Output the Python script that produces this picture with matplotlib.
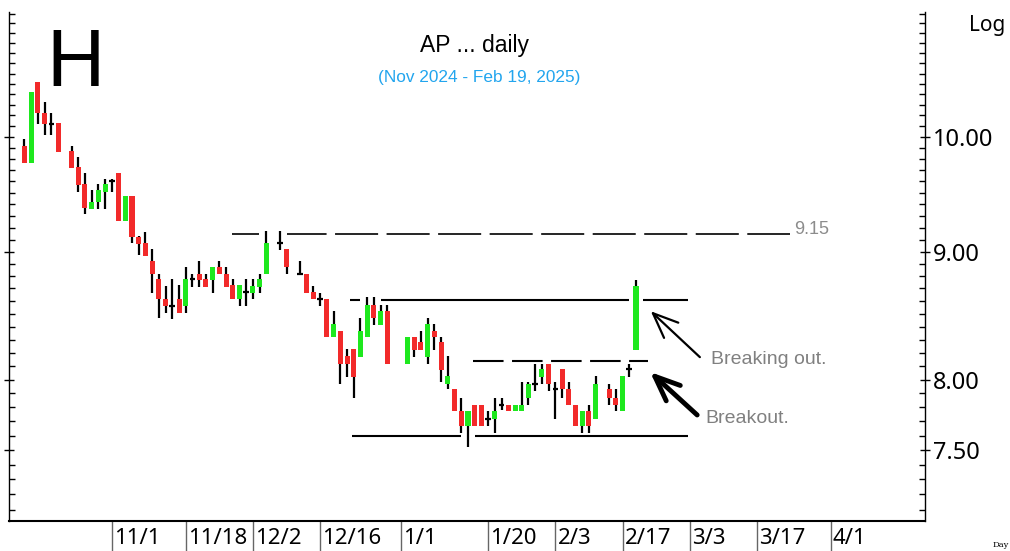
import numpy as np
import matplotlib
matplotlib.use("Agg")
import matplotlib.pyplot as plt
import matplotlib.transforms as mtransforms
from matplotlib.ticker import FixedLocator, FuncFormatter, NullFormatter

plt.rcParams['lines.scale_dashes'] = False

# weekday index 0 = first candle
start = '2024-10-15'

# candles: weekday index, open, high, low, close
day = [0, 1, 2, 3, 4, 5, 7, 8, 9, 10, 11, 12, 13, 14, 15, 16, 17, 18, 19, 20,
       21, 22, 23, 24, 25, 26, 27, 28, 29, 30, 31, 32, 33, 34, 35, 36, 38, 39, 41, 42,
       43, 44, 45, 46, 47, 48, 49, 50, 51, 52, 53, 54, 57, 58, 59, 60, 61, 62, 63, 64,
       65, 66, 67, 68, 69, 70, 71, 72, 73, 74, 75, 76, 77, 78, 79, 80, 81, 82, 83, 84,
       85, 87, 88, 89, 90, 91]
opn = [9.92, 9.76, 10.52, 10.22, 10.12, 10.13, 9.87, 9.73, 9.58, 9.36, 9.42, 9.51, 9.60, 9.67, 9.26, 9.47, 9.12, 9.07, 8.92, 8.78,
       8.62, 8.56, 8.62, 8.56, 8.78, 8.82, 8.78, 8.77, 8.87, 8.82, 8.73, 8.62, 8.67, 8.66, 8.71, 8.82, 9.07, 9.02, 8.82, 8.82,
       8.67, 8.62, 8.62, 8.32, 8.37, 8.18, 8.23, 8.17, 8.32, 8.57, 8.41, 8.52, 8.12, 8.32, 8.28, 8.17, 8.37, 8.28, 7.97, 7.93,
       7.77, 7.67, 7.82, 7.82, 7.72, 7.72, 7.82, 7.82, 7.77, 7.77, 7.87, 7.97, 8.02, 8.12, 7.93, 8.08, 7.93, 7.82, 7.67, 7.77,
       7.72, 7.93, 7.87, 7.77, 8.08, 8.22]
high = [9.98, 10.42, 10.52, 10.33, 10.22, 10.13, 9.92, 9.82, 9.67, 9.52, 9.58, 9.62, 9.62, 9.67, 9.47, 9.47, 9.13, 9.16, 9.02, 8.82,
        8.72, 8.78, 8.73, 8.87, 8.82, 8.92, 8.82, 8.87, 8.92, 8.87, 8.78, 8.73, 8.78, 8.78, 8.82, 9.17, 9.17, 9.02, 8.92, 8.82,
        8.72, 8.66, 8.62, 8.52, 8.37, 8.23, 8.23, 8.47, 8.63, 8.63, 8.57, 8.57, 8.32, 8.32, 8.37, 8.47, 8.42, 8.32, 8.18, 7.93,
        7.87, 7.77, 7.82, 7.82, 7.77, 7.87, 7.87, 7.82, 7.82, 7.98, 7.98, 8.12, 8.12, 8.12, 7.98, 8.08, 7.98, 7.82, 7.77, 7.82,
        8.03, 7.97, 7.93, 8.03, 8.12, 8.77]
low = [9.76, 9.76, 10.12, 10.02, 10.02, 9.86, 9.72, 9.51, 9.32, 9.36, 9.36, 9.36, 9.51, 9.26, 9.26, 9.07, 8.97, 8.96, 8.66, 8.47,
       8.51, 8.46, 8.51, 8.51, 8.71, 8.71, 8.71, 8.66, 8.82, 8.71, 8.62, 8.56, 8.56, 8.62, 8.66, 8.82, 9.01, 8.82, 8.82, 8.66,
       8.62, 8.56, 8.32, 8.32, 7.97, 8.02, 7.87, 8.17, 8.32, 8.41, 8.41, 8.12, 8.12, 8.17, 8.22, 8.12, 8.22, 7.98, 7.93, 7.77,
       7.62, 7.52, 7.67, 7.67, 7.67, 7.62, 7.78, 7.77, 7.77, 7.77, 7.82, 7.92, 7.97, 7.92, 7.72, 7.87, 7.82, 7.67, 7.62, 7.62,
       7.72, 7.82, 7.77, 7.77, 8.02, 8.22]
close = [9.76, 10.42, 10.22, 10.12, 10.12, 9.86, 9.72, 9.57, 9.37, 9.42, 9.52, 9.58, 9.60, 9.26, 9.47, 9.12, 9.06, 8.96, 8.82, 8.62,
         8.56, 8.56, 8.51, 8.78, 8.78, 8.77, 8.71, 8.87, 8.82, 8.71, 8.62, 8.73, 8.67, 8.72, 8.78, 9.07, 9.07, 8.87, 8.82, 8.66,
         8.62, 8.62, 8.32, 8.42, 8.12, 8.12, 8.02, 8.37, 8.57, 8.47, 8.52, 8.12, 8.32, 8.22, 8.22, 8.42, 8.32, 8.07, 8.03, 7.77,
         7.67, 7.77, 7.67, 7.67, 7.72, 7.77, 7.82, 7.77, 7.82, 7.82, 7.97, 7.97, 8.08, 7.97, 7.93, 7.93, 7.82, 7.67, 7.77, 7.67,
         7.97, 7.87, 7.82, 8.03, 8.08, 8.72]

# date axis
tick_dates = ['2024-11-01', '2024-11-18', '2024-12-02', '2024-12-16', '2025-01-01', '2025-01-20',
              '2025-02-03', '2025-02-17', '2025-03-03', '2025-03-17', '2025-04-01']
tick_labels = ['11/1', '11/18', '12/2', '12/16', '1/1', '1/20', '2/3', '2/17', '3/3', '3/17', '4/1']

# drawn levels: price, from / to (weekday index)
levels = [9.15, 8.61, 8.14, 7.60]
lvl_from = [30.9, 48.4, 66.7, 48.7]
lvl_to = [113.9, 98.7, 92.8, 98.7]
lvl_dash = [(31, 6.1), None, (22, 6.1), None]
lvl_lw = [1.2, 1.5, 1.5, 1.5]

day = np.array(day)
opn, high, low, close = map(np.array, (opn, high, low, close))

fig = plt.figure(figsize=(10.10, 5.51), dpi=100)
ax = fig.add_axes([9 / 1010, 30 / 551, 916 / 1010, 509 / 551])
ax.set_yscale('log')
ax.set_ylim(7.026, 11.217)
ax.set_xlim(-2.3, 134.0)

# horizontal levels
for lv, a, b, ds, lw in zip(levels, lvl_from, lvl_to, lvl_dash, lvl_lw):
    ln, = ax.plot([a, b], [lv, lv], color='black', lw=lw, zorder=1, solid_capstyle='butt')
    if ds is not None:
        ln.set_dashes(ds)
ax.text(114.6, levels[0], '9.15', color='#8c8c8c', fontsize=13, family='Liberation Sans',
        ha='left', va='baseline')

# white gap round each candle where it crosses a line
ax.bar(day, high - low, bottom=low, width=2.2, color='white', zorder=2)

# candles
ax.vlines(day, low, high, color='black', lw=1.6, zorder=3)
up = close > opn
down = close < opn
doji = ~(up | down)
ax.bar(day[up], close[up] - opn[up], bottom=opn[up], width=0.75, color='#1ee81e', zorder=4)
ax.bar(day[down], opn[down] - close[down], bottom=close[down], width=0.75, color='#f22a2a', zorder=4)
ax.hlines(close[doji], day[doji] - 0.42, day[doji] + 0.42, color='black', lw=1.6, zorder=4)

# arrows and notes
ax.annotate('', xy=(93.2, 8.52), xytext=(100.5, 8.168),
            arrowprops=dict(arrowstyle='->,head_length=1.8,head_width=0.75', lw=1.6,
                            color='black', mutation_scale=10, shrinkA=0, shrinkB=0))
ax.text(102.1, 8.147, 'Breaking out.', color='#808080', fontsize=14, family='Liberation Sans',
        ha='left', va='center')
ax.annotate('', xy=(93.1, 8.057), xytext=(100.1, 7.745),
            arrowprops=dict(arrowstyle='->,head_length=1.8,head_width=0.75', lw=3.5,
                            color='black', mutation_scale=10, shrinkA=0, shrinkB=0))
ax.text(101.25, 7.723, 'Breakout.', color='#808080', fontsize=14, family='Liberation Sans',
        ha='left', va='center')

# axes look
ax.spines['top'].set_visible(False)
ax.spines['bottom'].set_linewidth(1.5)
ax.spines['left'].set_linewidth(1)
ax.spines['right'].set_linewidth(1)
ax.set_xticks([])
ax.yaxis.set_major_locator(FixedLocator([7.5, 8.0, 9.0, 10.0]))
ax.yaxis.set_minor_locator(FixedLocator(np.arange(7.1, 11.25, 0.1)))
ax.yaxis.set_major_formatter(FuncFormatter(lambda v, p: f'{v:.2f}'))
ax.yaxis.set_minor_formatter(NullFormatter())
ax.tick_params(axis='y', which='both', left=True, right=True, labelleft=False, labelright=True,
               direction='in', length=4, width=1)
ax.tick_params(axis='y', which='major', direction='inout', length=7, pad=2, labelsize=17)
for lab in ax.get_yticklabels():
    lab.set_family('Noto Sans')

# date separators below the axis
tick_x = np.busday_count(start, tick_dates)
trans = mtransforms.blended_transform_factory(ax.transData, ax.transAxes)
for x, lab in zip(tick_x, tick_labels):
    ax.plot([x, x], [0, -0.08], transform=trans, color='#666666', lw=1, clip_on=False)
    ax.text(x + 0.3, -0.0455, lab, transform=trans, ha='left', va='baseline',
            fontsize=16, family='Noto Sans')

# titles
fig.text(0.0743, 0.844, 'H', fontsize=58, family='Liberation Sans', ha='center', va='baseline')
fig.text(0.470, 0.9056, 'AP ... daily', fontsize=16.5, family='Liberation Sans', ha='center', va='baseline')
fig.text(0.474, 0.851, '(Nov 2024 - Feb 19, 2025)', fontsize=12.4, family='Liberation Sans',
         color='#22a5ee', ha='center', va='baseline')
fig.text(0.9594, 0.944, 'Log', fontsize=15, family='Noto Sans', ha='left', va='baseline')
fig.text(0.983, 0.008, 'Day', fontsize=6, family='DejaVu Serif', ha='left', va='baseline')

fig.savefig('out.png', dpi=100)
